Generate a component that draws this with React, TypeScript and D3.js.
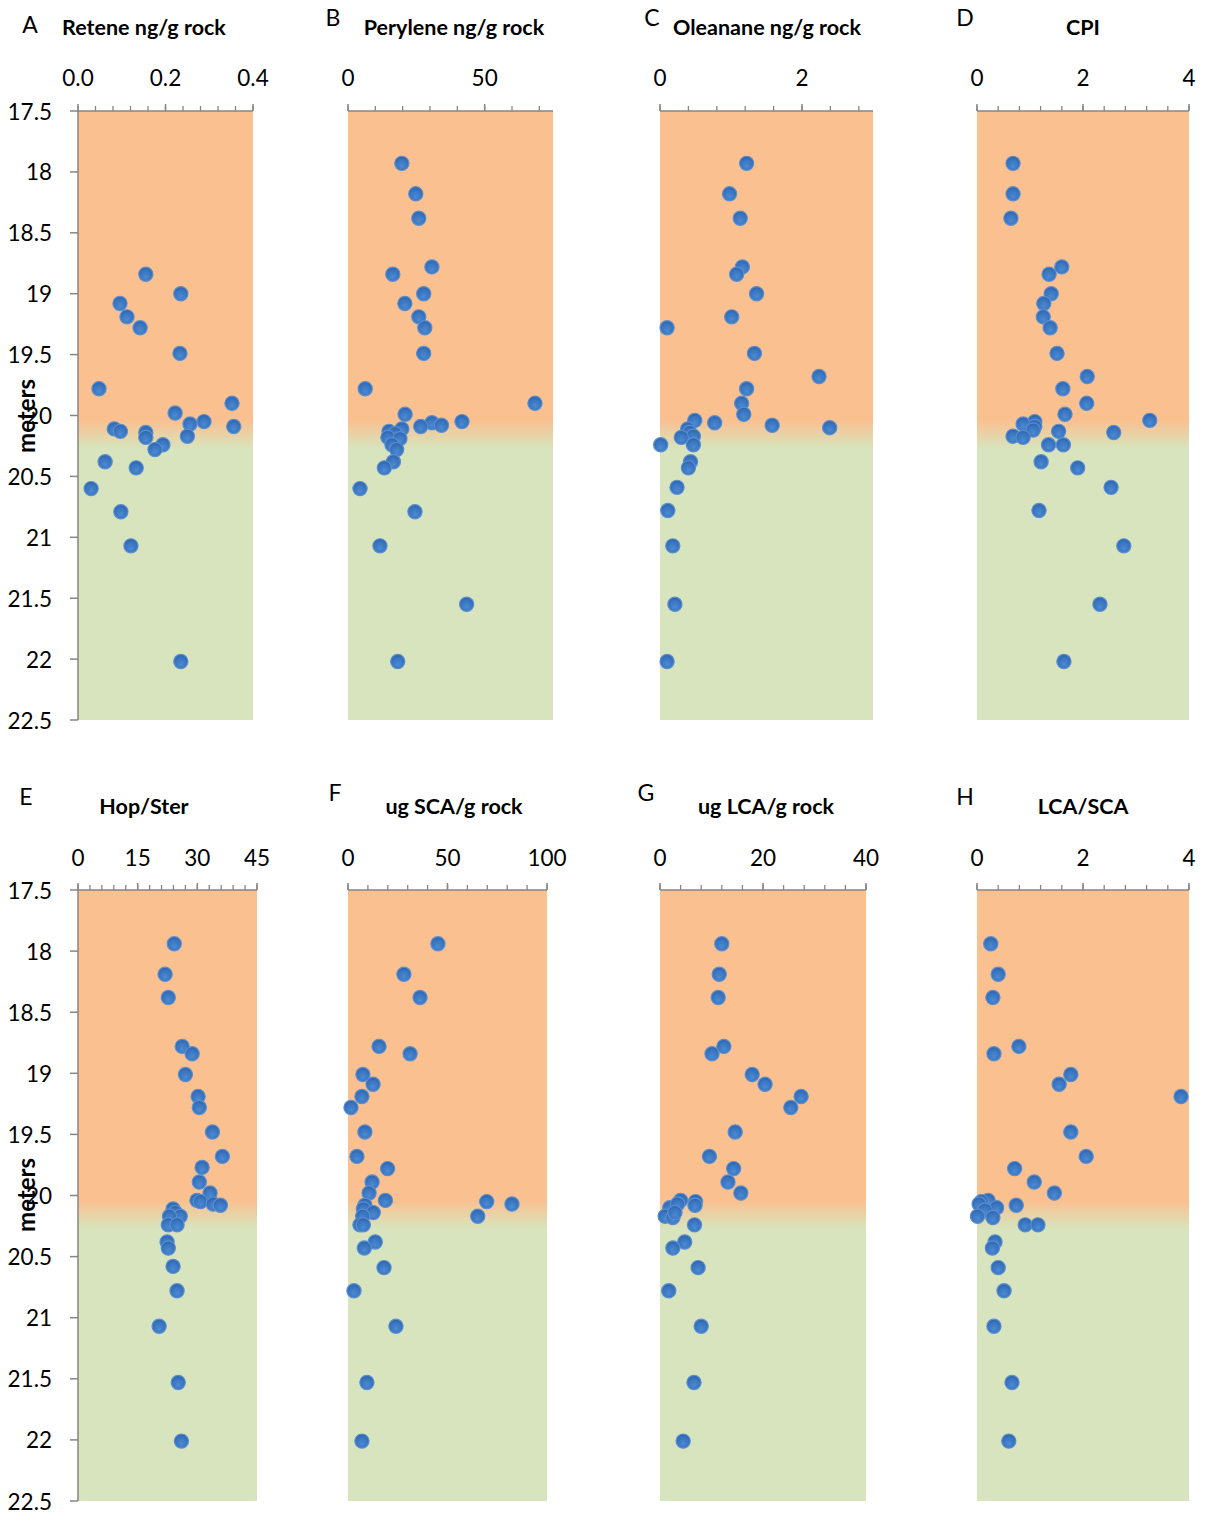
import React from "react";
import * as d3 from "d3";

type Pt = [number, number]; // [depth m, value]

const depthTicks = [17.5, 18, 18.5, 19, 19.5, 20, 20.5, 21, 21.5, 22, 22.5];

const retene: Pt[] = [
  [18.84, 0.155], [19.0, 0.235], [19.08, 0.096], [19.19, 0.112], [19.28, 0.142], [19.49, 0.233],
  [19.78, 0.048], [19.9, 0.352], [19.98, 0.222], [20.05, 0.288], [20.07, 0.256], [20.09, 0.356],
  [20.11, 0.083], [20.13, 0.097], [20.14, 0.155], [20.18, 0.155], [20.17, 0.25], [20.24, 0.194],
  [20.28, 0.176], [20.38, 0.062], [20.43, 0.133], [20.6, 0.03], [20.79, 0.098], [21.07, 0.121],
  [22.02, 0.235],
];
const perylene: Pt[] = [
  [17.93, 19.7], [18.18, 24.8], [18.38, 25.9], [18.78, 30.7], [18.84, 16.4], [19.0, 27.7],
  [19.08, 20.8], [19.19, 25.9], [19.28, 28.1], [19.49, 27.7], [19.78, 6.3], [19.9, 68.4],
  [19.99, 20.9], [20.06, 30.7], [20.08, 34.2], [20.05, 41.7], [20.09, 26.6], [20.11, 19.7],
  [20.13, 15.0], [20.15, 17.2], [20.18, 14.6], [20.19, 19.0], [20.24, 16.1], [20.28, 17.8],
  [20.38, 16.6], [20.43, 13.3], [20.6, 4.4], [20.79, 24.5], [21.07, 11.7], [21.55, 43.4],
  [22.02, 18.2],
];
const oleanane: Pt[] = [
  [17.93, 1.22], [18.18, 0.98], [18.38, 1.13], [18.78, 1.16], [18.84, 1.08], [19.0, 1.36],
  [19.19, 1.01], [19.28, 0.1], [19.49, 1.33], [19.68, 2.24], [19.78, 1.22], [19.9, 1.15],
  [19.99, 1.18], [20.04, 0.49], [20.06, 0.77], [20.08, 1.58], [20.1, 2.39], [20.11, 0.39],
  [20.14, 0.42], [20.17, 0.47], [20.18, 0.3], [20.24, 0.47], [20.24, 0.01], [20.38, 0.43],
  [20.43, 0.4], [20.59, 0.24], [20.78, 0.11], [21.07, 0.18], [21.55, 0.21], [22.02, 0.1],
];
const cpi: Pt[] = [
  [17.93, 0.68], [18.18, 0.68], [18.38, 0.64], [18.78, 1.6], [18.84, 1.36], [19.0, 1.4],
  [19.08, 1.26], [19.19, 1.25], [19.28, 1.38], [19.49, 1.51], [19.68, 2.08], [19.78, 1.62],
  [19.9, 2.07], [19.99, 1.66], [20.04, 3.26], [20.05, 1.09], [20.07, 0.87], [20.09, 1.09],
  [20.12, 1.06], [20.13, 1.54], [20.14, 2.58], [20.17, 0.68], [20.18, 0.87], [20.24, 1.35],
  [20.24, 1.63], [20.38, 1.21], [20.43, 1.9], [20.59, 2.53], [20.78, 1.17], [21.07, 2.77],
  [21.55, 2.32], [22.02, 1.64],
];
const hopSter: Pt[] = [
  [17.94, 24.2], [18.19, 21.9], [18.38, 22.7], [18.78, 26.2], [18.84, 28.7], [19.01, 27.0],
  [19.19, 30.2], [19.28, 30.5], [19.48, 33.8], [19.68, 36.3], [19.77, 31.2], [19.89, 30.5],
  [19.98, 33.2], [20.04, 29.9], [20.05, 30.8], [20.07, 34.0], [20.08, 35.8], [20.11, 23.9],
  [20.14, 24.5], [20.17, 25.7], [20.17, 23.0], [20.24, 22.7], [20.24, 24.9], [20.38, 22.4],
  [20.43, 22.7], [20.58, 23.9], [20.78, 24.9], [21.07, 20.4], [21.53, 25.2], [22.01, 26.0],
];
const sca: Pt[] = [
  [17.94, 45.2], [18.19, 28.1], [18.38, 36.2], [18.78, 15.6], [18.84, 31.2], [19.01, 7.5],
  [19.09, 12.6], [19.19, 7.0], [19.28, 1.5], [19.48, 8.5], [19.68, 4.5], [19.78, 19.9],
  [19.89, 12.1], [19.98, 10.6], [20.04, 18.8], [20.05, 69.7], [20.07, 82.4], [20.08, 8.5],
  [20.11, 7.7], [20.14, 12.7], [20.17, 65.2], [20.17, 7.4], [20.24, 6.0], [20.24, 7.7],
  [20.38, 13.7], [20.43, 8.2], [20.59, 18.1], [20.78, 3.0], [21.07, 24.1], [21.53, 9.5],
  [22.01, 7.0],
];
const lca: Pt[] = [
  [17.94, 12.0], [18.19, 11.5], [18.38, 11.3], [18.78, 12.4], [18.84, 10.1], [19.01, 17.9],
  [19.09, 20.4], [19.19, 27.4], [19.28, 25.4], [19.48, 14.6], [19.68, 9.6], [19.78, 14.3],
  [19.89, 13.2], [19.98, 15.7], [20.04, 4.0], [20.05, 6.9], [20.08, 6.8], [20.1, 1.9],
  [20.07, 3.4], [20.17, 1.0], [20.18, 2.5], [20.14, 2.9], [20.24, 6.7], [20.38, 4.8],
  [20.43, 2.5], [20.59, 7.4], [20.78, 1.7], [21.07, 8.0], [21.53, 6.6], [22.01, 4.5],
];
const lcaSca: Pt[] = [
  [17.94, 0.26], [18.19, 0.4], [18.38, 0.3], [18.78, 0.79], [18.84, 0.32], [19.01, 1.77],
  [19.09, 1.55], [19.19, 3.85], [19.48, 1.77], [19.68, 2.06], [19.78, 0.71], [19.89, 1.08],
  [19.98, 1.46], [20.04, 0.21], [20.05, 0.08], [20.07, 0.04], [20.08, 0.74], [20.1, 0.37],
  [20.12, 0.15], [20.17, 0.01], [20.18, 0.3], [20.24, 0.91], [20.24, 1.15], [20.38, 0.34],
  [20.43, 0.29], [20.59, 0.4], [20.78, 0.51], [21.07, 0.32], [21.53, 0.66], [22.01, 0.6],
];

// zone boundary (orange -> green transition) in metres
const zoneTop = 20.04;
const zoneBottom = 20.27;

type Panel = {
  letter: string; title: string; data: Pt[]; domain: [number, number];
  major: number[]; minorStep: number; fmt: string;
  x0: number; x1: number; row: number; yAxis: boolean;
  letterPos: [number, number]; titleX: number;
};

const panels: Panel[] = [
  { letter: "A", title: "Retene ng/g rock", data: retene, domain: [0, 0.4], major: [0, 0.2, 0.4], minorStep: 0.04, fmt: ".1f", x0: 78, x1: 253, row: 0, yAxis: true, letterPos: [30, 24], titleX: 144 },
  { letter: "B", title: "Perylene ng/g rock", data: perylene, domain: [0, 75], major: [0, 50], minorStep: 10, fmt: "d", x0: 348, x1: 553, row: 0, yAxis: false, letterPos: [333, 17], titleX: 454 },
  { letter: "C", title: "Oleanane ng/g rock", data: oleanane, domain: [0, 3], major: [0, 2], minorStep: 0.4, fmt: "d", x0: 660, x1: 873, row: 0, yAxis: false, letterPos: [652, 17], titleX: 767 },
  { letter: "D", title: "CPI", data: cpi, domain: [0, 4], major: [0, 2, 4], minorStep: 0.4, fmt: "d", x0: 977, x1: 1189, row: 0, yAxis: false, letterPos: [965, 17], titleX: 1083 },
  { letter: "E", title: "Hop/Ster", data: hopSter, domain: [0, 45], major: [0, 15, 30, 45], minorStep: 3, fmt: "d", x0: 78, x1: 257, row: 1, yAxis: true, letterPos: [26, 796], titleX: 144 },
  { letter: "F", title: "ug SCA/g rock", data: sca, domain: [0, 100], major: [0, 50, 100], minorStep: 10, fmt: "d", x0: 348, x1: 547, row: 1, yAxis: false, letterPos: [335, 792], titleX: 454 },
  { letter: "G", title: "ug LCA/g rock", data: lca, domain: [0, 40], major: [0, 20, 40], minorStep: 4, fmt: "d", x0: 660, x1: 866, row: 1, yAxis: false, letterPos: [646, 792], titleX: 766 },
  { letter: "H", title: "LCA/SCA", data: lcaSca, domain: [0, 4], major: [0, 2, 4], minorStep: 0.4, fmt: "d", x0: 977, x1: 1189, row: 1, yAxis: false, letterPos: [965, 796], titleX: 1083 },
];

const rows = [
  { top: 111, bottom: 720, titleY: 27, tickY: 77, metersY: 416 },
  { top: 890, bottom: 1501, titleY: 806, tickY: 857, metersY: 1195 },
];

const FONT = "Lato, 'Open Sans', 'DejaVu Sans', sans-serif";
const ORANGE = "#FAC090";
const GREEN = "#D7E4BD";
const AXIS = "#868686";

function PanelView({ p, idx }: { p: Panel; idx: number }) {
  const r = rows[p.row];
  const x = d3.scaleLinear().domain(p.domain).range([p.x0, p.x1]);
  const y = d3.scaleLinear().domain([17.5, 22.5]).range([r.top, r.bottom]);
  const minor = d3.range(p.domain[0], p.domain[1] + 1e-9, p.minorStep);
  const f = d3.format(p.fmt);
  const gid = `zone${idx}`;
  const yTop = y(zoneTop), yBot = y(zoneBottom);
  const h = r.bottom - r.top;
  return (
    <g>
      <defs>
        <linearGradient id={gid} x1="0" y1={r.top} x2="0" y2={r.bottom} gradientUnits="userSpaceOnUse">
          <stop offset={(yTop - r.top) / h} stopColor={ORANGE} />
          <stop offset={(yBot - r.top) / h} stopColor={GREEN} />
        </linearGradient>
      </defs>
      <rect x={p.x0} y={r.top} width={p.x1 - p.x0} height={h} fill={`url(#${gid})`} />
      <text x={p.letterPos[0]} y={p.letterPos[1]} fontFamily={FONT} fontSize={23} textAnchor="middle" dominantBaseline="central">{p.letter}</text>
      <text x={p.titleX} y={r.titleY} fontFamily={FONT} fontSize={21.5} fontWeight="bold" textAnchor="middle" dominantBaseline="central">{p.title}</text>
      {/* top axis */}
      <line x1={p.x0} x2={p.x1} y1={r.top} y2={r.top} stroke={AXIS} strokeWidth={1.5} />
      {minor.map((v, i) => (
        <line key={"m" + i} x1={x(v)} x2={x(v)} y1={r.top} y2={r.top - 5} stroke={AXIS} strokeWidth={1.3} />
      ))}
      {p.major.map((v, i) => (
        <g key={"M" + i}>
          <line x1={x(v)} x2={x(v)} y1={r.top} y2={r.top - 7} stroke={AXIS} strokeWidth={1.5} />
          <text x={x(v)} y={r.tickY} fontFamily={FONT} fontSize={22.5} textAnchor="middle" dominantBaseline="central">{f(v)}</text>
        </g>
      ))}
      {p.yAxis && (
        <g>
          <line x1={p.x0} x2={p.x0} y1={r.top} y2={r.bottom} stroke={AXIS} strokeWidth={1.5} />
          {depthTicks.map((t, i) => (
            <g key={"y" + i}>
              <line x1={p.x0 - 8} x2={p.x0} y1={y(t)} y2={y(t)} stroke={AXIS} strokeWidth={1.5} />
              <text x={52} y={y(t)} fontFamily={FONT} fontSize={22.5} textAnchor="end" dominantBaseline="central">{String(t)}</text>
            </g>
          ))}
          <text transform={`translate(25,${r.metersY}) rotate(-90)`} fontFamily={FONT} fontSize={24} fontWeight="bold" textAnchor="middle" dominantBaseline="central">meters</text>
        </g>
      )}
      {p.data.map((d, i) => (
        <circle key={"p" + i} cx={x(d[1])} cy={y(d[0])} r={7.1} fill="url(#marker)" stroke="#5A8ED0" strokeWidth={1.2} />
      ))}
    </g>
  );
}

export default function App() {
  return (
    <svg width={1207} height={1521} style={{ position: "absolute", left: 0, top: 0, background: "#fff" }}>
      <defs>
        <radialGradient id="marker" cx="50%" cy="62%" r="60%" fx="50%" fy="70%">
          <stop offset="0%" stopColor="#4C8AD3" />
          <stop offset="70%" stopColor="#3873BE" />
          <stop offset="100%" stopColor="#2C62AA" />
        </radialGradient>
      </defs>
      <rect width={1207} height={1521} fill="#fff" />
      {panels.map((p, i) => (
        <PanelView key={i} p={p} idx={i} />
      ))}
    </svg>
  );
}
